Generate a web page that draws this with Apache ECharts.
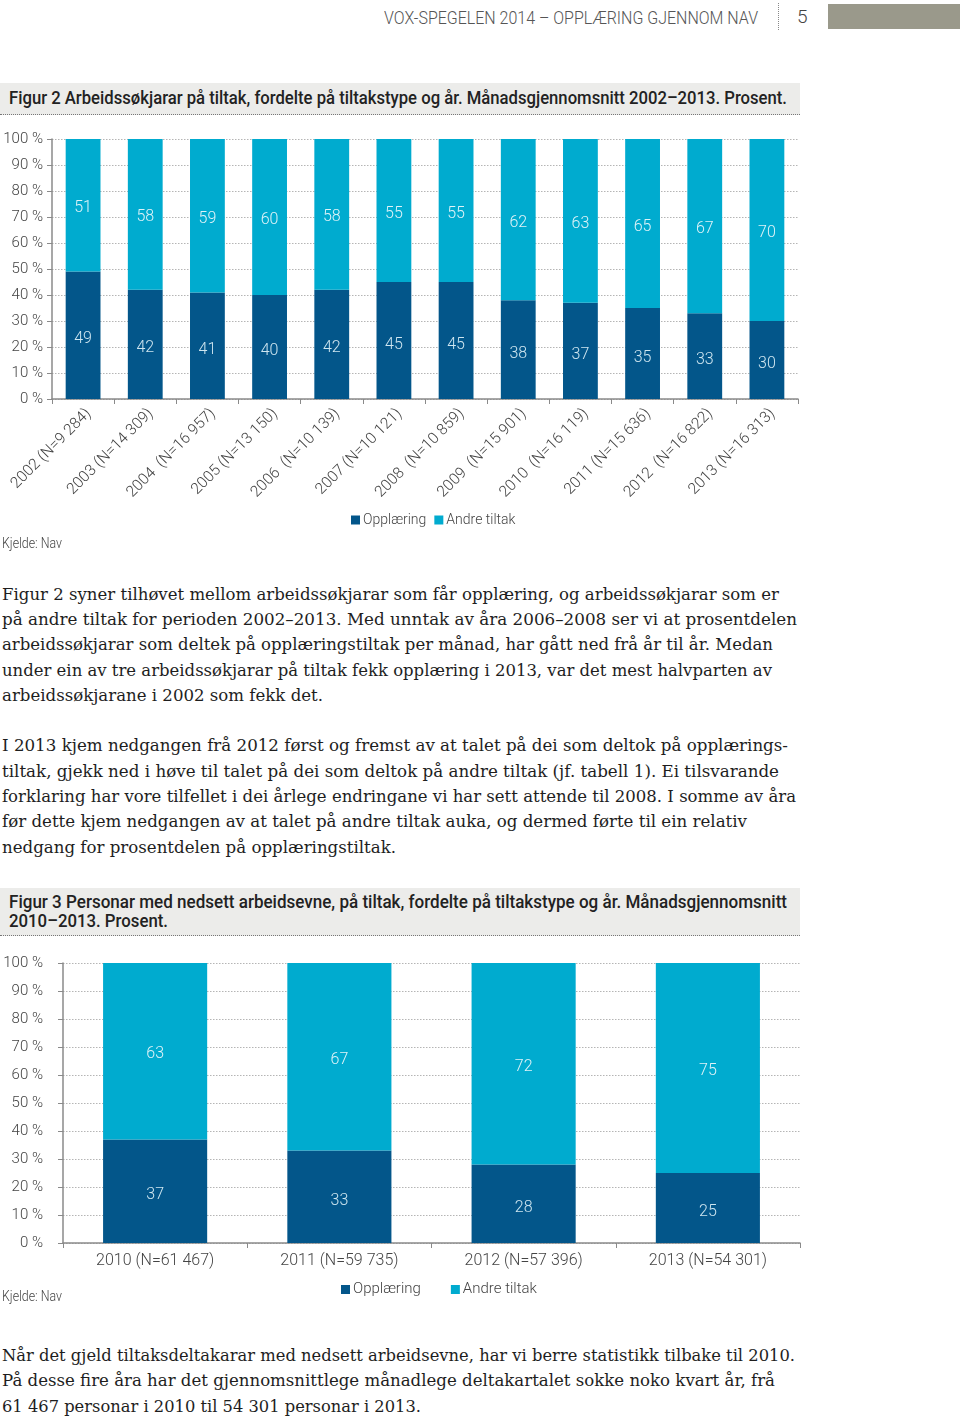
<!DOCTYPE html>
<html><head><meta charset="utf-8">
<script src="https://cdn.jsdelivr.net/npm/echarts@6/dist/echarts.min.js"></script>
<style>
html,body{margin:0;padding:0}
body{width:960px;height:1418px;position:relative;background:#fff;overflow:hidden}
.t{position:absolute;white-space:nowrap;transform-origin:0 50%;line-height:1}
.serif{font-family:"DejaVu Serif",serif;font-size:17px;color:#1e1e1e}
.sans{font-family:"Roboto",sans-serif}
.ttl{font-weight:500}
.box{position:absolute;left:0;width:800px;background:#ececea;border-bottom:1px dotted #777}
.chart{position:absolute;left:0;width:960px}
</style></head>
<body>
<div class="t sans" data-w="374" style="left:384px;top:9px;font-size:18px;color:#555;font-weight:300">VOX-SPEGELEN 2014 – OPPLÆRING GJENNOM NAV</div>
<div style="position:absolute;left:778px;top:3px;height:27px;border-left:1px dotted #888"></div>
<div class="t sans" style="left:797px;top:7px;font-size:19px;color:#444;font-weight:300">5</div>
<div style="position:absolute;left:828px;top:4px;width:132px;height:25px;background:#9a998b"></div>

<div class="box" style="top:83px;height:31px"></div>
<div class="t sans ttl" data-w="778" style="left:9px;top:89px;font-size:18px;color:#222">Figur 2 Arbeidssøkjarar på tiltak, fordelte på tiltakstype og år. Månadsgjennomsnitt 2002–2013. Prosent.</div>

<div id="c1" class="chart" style="top:120px;height:440px"></div>
<div class="t sans" data-w="60" style="left:2px;top:536px;font-size:14px;color:#444;font-weight:300">Kjelde: Nav</div>

<div class="t serif" data-w="777" style="left:2px;top:586px">Figur 2 syner tilhøvet mellom arbeidssøkjarar som får opplæring, og arbeidssøkjarar som er</div>
<div class="t serif" data-w="795" style="left:2px;top:611px">på andre tiltak for perioden 2002–2013. Med unntak av åra 2006–2008 ser vi at prosentdelen</div>
<div class="t serif" data-w="771" style="left:2px;top:636px">arbeidssøkjarar som deltek på opplæringstiltak per månad, har gått ned frå år til år. Medan</div>
<div class="t serif" data-w="770" style="left:2px;top:662px">under ein av tre arbeidssøkjarar på tiltak fekk opplæring i 2013, var det mest halvparten av</div>
<div class="t serif" data-w="321" style="left:2px;top:687px">arbeidssøkjarane i 2002 som fekk det.</div>

<div class="t serif" data-w="786" style="left:2px;top:737px">I 2013 kjem nedgangen frå 2012 først og fremst av at talet på dei som deltok på opplærings-</div>
<div class="t serif" data-w="777" style="left:2px;top:763px">tiltak, gjekk ned i høve til talet på dei som deltok på andre tiltak (jf. tabell 1). Ei tilsvarande</div>
<div class="t serif" data-w="794" style="left:2px;top:788px">forklaring har vore tilfellet i dei årlege endringane vi har sett attende til 2008. I somme av åra</div>
<div class="t serif" data-w="745" style="left:2px;top:813px">før dette kjem nedgangen av at talet på andre tiltak auka, og dermed førte til ein relativ</div>
<div class="t serif" data-w="394" style="left:2px;top:839px">nedgang for prosentdelen på opplæringstiltak.</div>

<div class="box" style="top:888px;height:47px"></div>
<div class="t sans ttl" data-w="778" style="left:9px;top:893px;font-size:18px;color:#222">Figur 3 Personar med nedsett arbeidsevne, på tiltak, fordelte på tiltakstype og år. Månadsgjennomsnitt</div>
<div class="t sans ttl" data-w="159" style="left:9px;top:912px;font-size:18px;color:#222">2010–2013. Prosent.</div>

<div id="c2" class="chart" style="top:950px;height:360px"></div>
<div class="t sans" data-w="60" style="left:2px;top:1289px;font-size:14px;color:#444;font-weight:300">Kjelde: Nav</div>

<div class="t serif" data-w="793" style="left:2px;top:1347px">Når det gjeld tiltaksdeltakarar med nedsett arbeidsevne, har vi berre statistikk tilbake til 2010.</div>
<div class="t serif" data-w="773" style="left:2px;top:1372px">På desse fire åra har det gjennomsnittlege månadlege deltakartalet sokke noko kvart år, frå</div>
<div class="t serif" data-w="419" style="left:2px;top:1398px">61 467 personar i 2010 til 54 301 personar i 2013.</div>

<script>
// ---- data ----
const years1 = ['2002 (N=9 284)', '2003 (N=14 309)', '2004  (N=16 957)', '2005 (N=13 150)', '2006  (N=10 139)', '2007 (N=10 121)', '2008  (N=10 859)', '2009  (N=15 901)', '2010  (N=16 119)', '2011 (N=15 636)', '2012  (N=16 822)', '2013 (N=16 313)'];
const opplaering1 = [49, 42, 41, 40, 42, 45, 45, 38, 37, 35, 33, 30];
const andre1 = [51, 58, 59, 60, 58, 55, 55, 62, 63, 65, 67, 70];
const years2 = ['2010 (N=61 467)', '2011 (N=59 735)', '2012 (N=57 396)', '2013 (N=54 301)'];
const opplaering2 = [37, 33, 28, 25];
const andre2 = [63, 67, 72, 75];
const seriesNames = ['Opplæring', 'Andre tiltak'];

// fit text widths
document.querySelectorAll('[data-w]').forEach(el => {
  const w = el.getBoundingClientRect().width;
  const target = +el.dataset.w;
  if (w > 0) el.style.transform = 'scaleX(' + (target / w) + ')';
});

const DARK = '#03568a', LIGHT = '#00abcf';
const FONT = 'Roboto, sans-serif';

function makeOption(cats, opp, andre, cfg) {
  return {
    animation: false,
    textStyle: { fontFamily: FONT },
    grid: cfg.grid,
    legend: {
      data: seriesNames, left: cfg.legendLeft, top: cfg.legendTop,
      icon: 'rect', itemWidth: 9, itemHeight: 9, itemGap: cfg.legendGap,
      textStyle: { fontSize: cfg.legendFont, color: '#444', fontFamily: FONT, fontWeight: 300, padding: [0, 0, 0, -2] }
    },
    xAxis: {
      type: 'category', data: cats,
      axisLine: { lineStyle: { color: '#8a8a8a', width: 1.5 } },
      axisTick: { show: true, lineStyle: { color: '#8a8a8a' }, length: 5 },
      axisLabel: Object.assign({ interval: 0, color: '#444', fontSize: cfg.xFont, fontWeight: 300, fontFamily: FONT }, cfg.xLabel)
    },
    yAxis: {
      type: 'value', min: 0, max: 100, interval: 10,
      axisLine: { show: true, lineStyle: { color: '#8a8a8a', width: 1.5 } },
      axisTick: { show: true, length: 5, lineStyle: { color: '#8a8a8a' } },
      axisLabel: { formatter: v => v + ' %', color: '#444', fontSize: 15, fontWeight: 300, margin: cfg.yMargin, fontFamily: FONT },
      splitLine: { lineStyle: { color: '#b5b5b5', type: [1.5, 1.5] } }
    },
    series: [
      { name: seriesNames[0], type: 'bar', stack: 's', data: opp, barWidth: cfg.barWidth,
        itemStyle: { color: DARK },
        label: { show: true, position: 'inside', offset: [0, 4], color: '#cfe6f0', fontSize: 16, fontWeight: 300, fontFamily: FONT } },
      { name: seriesNames[1], type: 'bar', stack: 's', data: andre, barWidth: cfg.barWidth,
        itemStyle: { color: LIGHT },
        label: { show: true, position: 'inside', offset: [0, 3], color: '#dff3f8', fontSize: 16, fontWeight: 300, fontFamily: FONT } }
    ]
  };
}

const c1 = echarts.init(document.getElementById('c1'), null, { renderer: 'canvas' });
c1.setOption(makeOption(years1, opplaering1, andre1, {
  grid: { left: 52, right: 162, top: 19, bottom: 161, containLabel: false },
  legendLeft: 346, legendTop: 388, legendGap: 8, legendFont: 14, yMargin: 9,
  xFont: 15.5, xLabel: { rotate: 45, margin: 18, padding: [0, -8, 0, 0] }, barWidth: '56%'
}));

const c2 = echarts.init(document.getElementById('c2'), null, { renderer: 'canvas' });
c2.setOption(makeOption(years2, opplaering2, andre2, {
  grid: { left: 63, right: 160, top: 13, bottom: 67, containLabel: false },
  legendLeft: 336, legendTop: 327, legendGap: 30, legendFont: 15, yMargin: 20,
  xFont: 16, xLabel: { margin: 10 }, barWidth: '56.5%'
}));
</script>
</body></html>
